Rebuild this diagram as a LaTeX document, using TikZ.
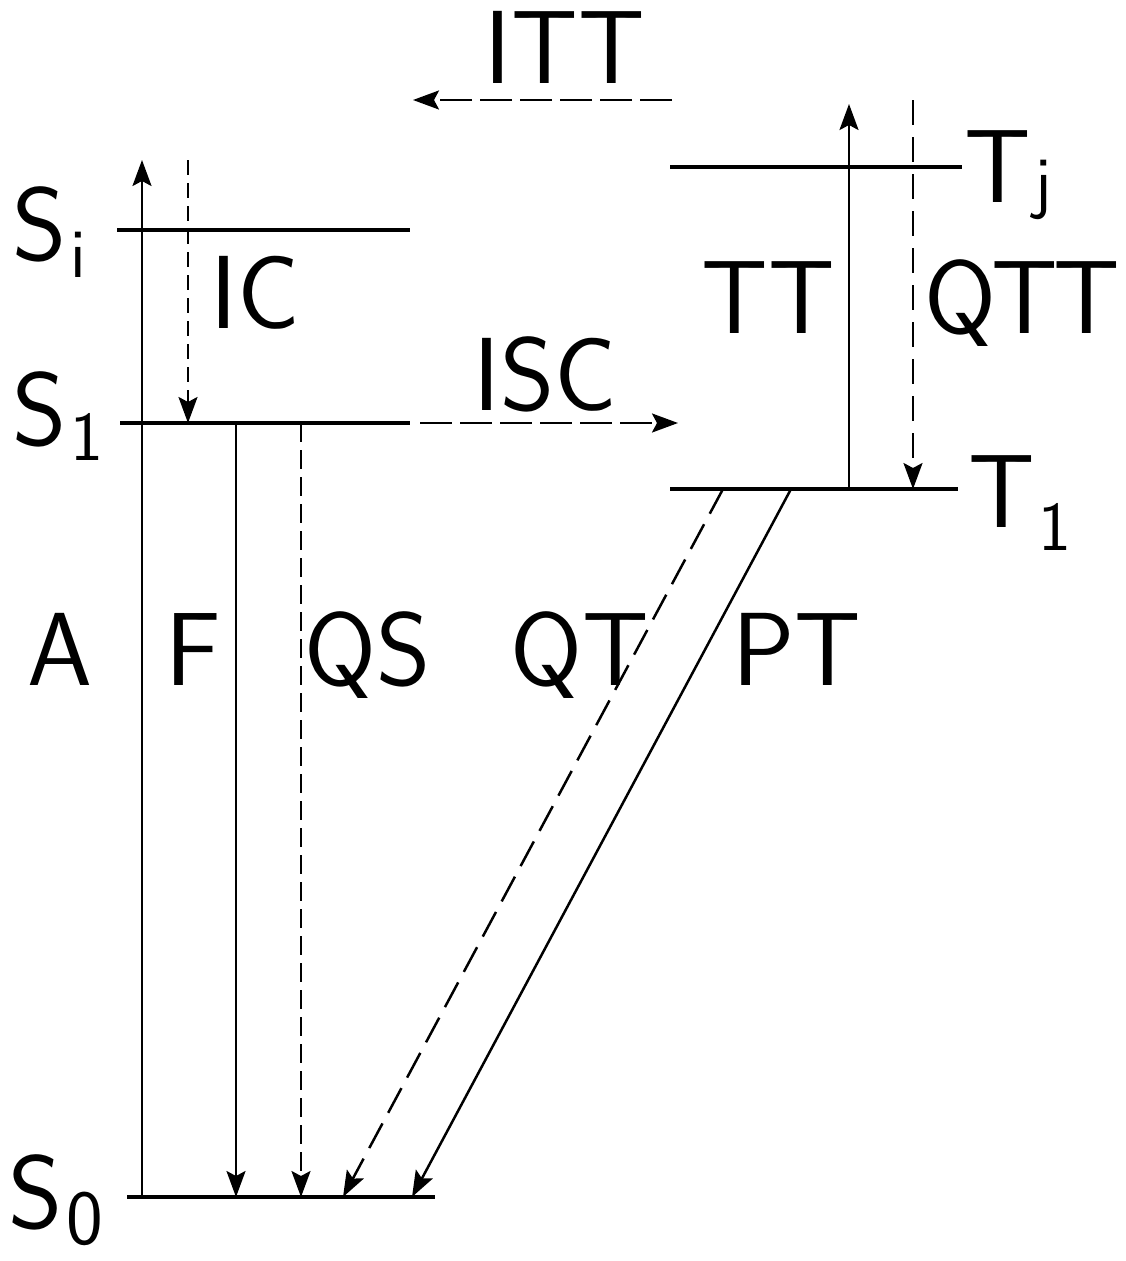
\documentclass[tikz,border=0pt]{standalone}
\usetikzlibrary{arrows.meta}
\newcommand\bigfont{\fontsize{104}{104}\selectfont\sffamily}
\newcommand\subfont{\fontsize{70}{70}\selectfont\sffamily}
\begin{document}
\begin{tikzpicture}[x=1pt,y=-1pt,
  lvl/.style={line width=3.5pt},
  arr/.style={line width=2.5pt,-{Stealth[length=26pt,width=19pt,inset=5pt]}},
  lab/.style={inner sep=0pt,anchor=base,font=\bigfont},
  lvllab/.style={inner sep=0pt,anchor=base west,font=\bigfont}]
\useasboundingbox (0,0) rectangle (1126,1261);
% level end points
\coordinate (SiL) at (117,230); \coordinate (SiR) at (410,230);
\coordinate (S1L) at (120,423); \coordinate (S1R) at (410,423);
\coordinate (S0L) at (127,1197); \coordinate (S0R) at (435,1197);
\coordinate (TjL) at (670,167); \coordinate (TjR) at (962,167);
\coordinate (T1L) at (670,489); \coordinate (T1R) at (958,489);
% levels
\draw[lvl] (SiL) -- (SiR);
\draw[lvl] (S1L) -- (S1R);
\draw[lvl] (S0L) -- (S0R);
\draw[lvl] (TjL) -- (TjR);
\draw[lvl] (T1L) -- (T1R);
% transition end points
\coordinate (Abot) at (142,1197); \coordinate (Atop) at (142,160);
\coordinate (ICtop) at (188,160); \coordinate (ICbot) at (188,423);
\coordinate (Ftop) at (236,423); \coordinate (Fbot) at (236,1197);
\coordinate (QStop) at (301,423); \coordinate (QSbot) at (301,1197);
\coordinate (QTtop) at (723,489); \coordinate (QTbot) at (343,1197);
\coordinate (PTtop) at (791,489); \coordinate (PTbot) at (412,1197);
\coordinate (TTbot) at (849,489); \coordinate (TTtop) at (849,104);
\coordinate (QTTtop) at (913,100); \coordinate (QTTbot) at (913,489);
\coordinate (ITTr) at (672,100); \coordinate (ITTl) at (413,100);
\coordinate (ISCl) at (420,423); \coordinate (ISCr) at (678,423);
% transitions
\draw[arr] (Abot) -- (Atop);
\draw[arr,dash pattern=on 15pt off 8pt] (ICtop) -- (ICbot);
\draw[arr] (Ftop) -- (Fbot);
\draw[arr,dash pattern=on 19pt off 8pt] (QStop) -- (QSbot);
\draw[arr,dash pattern=on 28pt off 12pt] (QTtop) -- (QTbot);
\draw[arr] (PTtop) -- (PTbot);
\draw[arr] (TTbot) -- (TTtop);
\draw[arr,dash pattern=on 25pt off 12pt] (QTTtop) -- (QTTbot);
\draw[arr,dash pattern=on 32pt off 8pt] (ITTr) -- (ITTl);
\draw[arr,dash pattern=on 32pt off 8pt] (ISCl) -- (ISCr);
% transition labels
\node[lab] (ITT) at (565,83) {ITT};
\node[lab] (IC) at (255,328) {IC};
\node[lab] (ISC) at (545,410) {ISC};
\node[lab] (TT) at (768,333) {TT};
\node[lab] (QTT) at (1022,333) {Q\kern-5pt T\kern-5pt T};
\node[lab] (A) at (60,685) {A};
\node[lab] (F) at (193,685) {F};
\node[lab] (QS) at (368,685) {QS};
\node[lab] (QT) at (580,685) {QT};
\node[lab] (PT) at (797,685) {PT};
% level labels
\node[lvllab] (Si) at (12,260) {S\kern4pt\raisebox{-17pt}{\subfont i}};
\node[lvllab] (S1) at (12,445) {S\kern4pt\raisebox{-15pt}{\subfont 1}};
\node[lvllab] (S0) at (8,1228) {S\kern4pt\raisebox{-16pt}{\fontsize{78}{78}\selectfont\sffamily 0}};
\node[lvllab] (Tj) at (964,202) {T\kern4pt\raisebox{-3pt}{\subfont j}};
\node[lvllab] (T1) at (968,527) {T\kern4pt\raisebox{-23pt}{\subfont 1}};
\end{tikzpicture}
\end{document}
